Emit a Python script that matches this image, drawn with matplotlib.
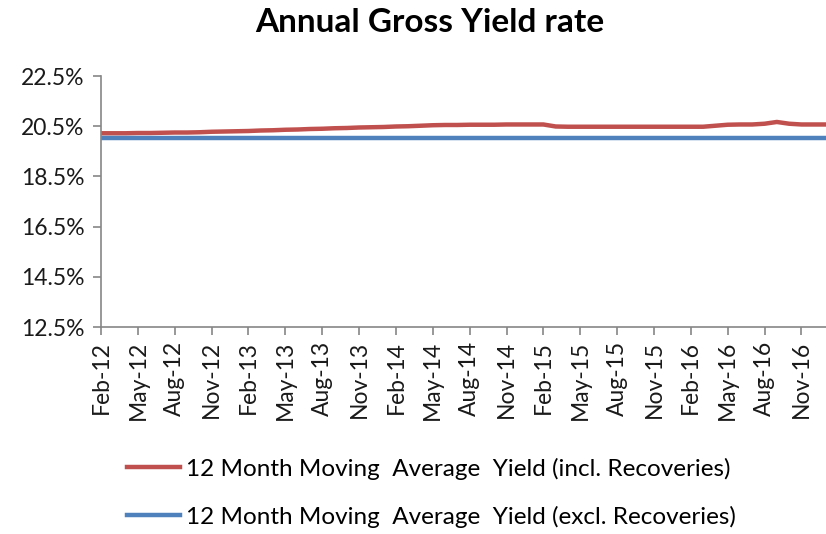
import matplotlib
matplotlib.use("Agg")
import matplotlib.pyplot as plt
import pandas as pd

# monthly values, Feb-12 .. Jan-17
months = pd.date_range("2012-02-01", periods=60, freq="MS")

incl_recoveries = [
    20.22, 20.22, 20.22, 20.23, 20.23, 20.24,
    20.25, 20.25, 20.26, 20.28, 20.29, 20.30,
    20.31, 20.33, 20.34, 20.36, 20.37, 20.39,
    20.40, 20.42, 20.43, 20.45, 20.46, 20.47,
    20.49, 20.50, 20.52, 20.54, 20.55, 20.55,
    20.56, 20.56, 20.56, 20.57, 20.57, 20.57,
    20.57, 20.49, 20.48, 20.48, 20.48, 20.48,
    20.48, 20.48, 20.48, 20.48, 20.48, 20.48,
    20.48, 20.48, 20.52, 20.56, 20.57, 20.57,
    20.60, 20.67, 20.60, 20.57, 20.57, 20.57,
]
excl_recoveries = [
    20.03, 20.03, 20.03, 20.03, 20.03, 20.03,
    20.03, 20.03, 20.03, 20.03, 20.03, 20.03,
    20.03, 20.03, 20.03, 20.03, 20.03, 20.03,
    20.03, 20.03, 20.03, 20.03, 20.03, 20.03,
    20.03, 20.03, 20.03, 20.03, 20.03, 20.03,
    20.03, 20.03, 20.03, 20.03, 20.03, 20.03,
    20.03, 20.03, 20.03, 20.03, 20.03, 20.03,
    20.03, 20.03, 20.03, 20.03, 20.03, 20.03,
    20.03, 20.03, 20.03, 20.03, 20.03, 20.03,
    20.03, 20.03, 20.03, 20.03, 20.03, 20.03,
]
y_ticks = [12.5, 14.5, 16.5, 18.5, 20.5, 22.5]

labels = [m.strftime("%b-%y") for m in months]
x = list(range(len(months)))

plt.rcParams["font.family"] = ["Lato", "DejaVu Sans"]

fig = plt.figure(figsize=(8.26, 5.34), dpi=100)
ax = fig.add_axes([0.1223, 0.3876, 0.8777, 0.4700])

ax.plot(x, incl_recoveries, color="#C0504D", lw=3.2,
        label="12 Month Moving  Average  Yield (incl. Recoveries)")
ax.plot(x, excl_recoveries, color="#4F81BD", lw=3.2,
        label="12 Month Moving  Average  Yield (excl. Recoveries)")

ax.set_xlim(0, 59)
ax.set_ylim(12.5, 22.5)
ax.set_yticks(y_ticks)
ax.set_yticklabels(["%.1f%%" % v for v in y_ticks])
ax.set_xticks(x[::3])
ax.set_xticklabels(labels[::3], rotation=90)

for s in ["top", "right"]:
    ax.spines[s].set_visible(False)
for s in ["left", "bottom"]:
    ax.spines[s].set_color("#868686")
    ax.spines[s].set_linewidth(1.2)
ax.tick_params(axis="both", colors="#868686", length=6, width=1.2,
               labelcolor="#1a1a1a", labelsize=16.5)
ax.tick_params(axis="y", pad=6)
ax.tick_params(axis="x", pad=4)

fig.text(430 / 826, 1 - 23 / 534, "Annual Gross Yield rate",
         ha="center", va="center", fontsize=24, fontweight="bold")

fig.legend(loc="upper left", bbox_to_anchor=(105 / 826, 1 - 436 / 534),
           frameon=False, fontsize=17.5, handlelength=2.2,
           handletextpad=0.25, labelspacing=1.05)

fig.savefig("out.png", dpi=100)
